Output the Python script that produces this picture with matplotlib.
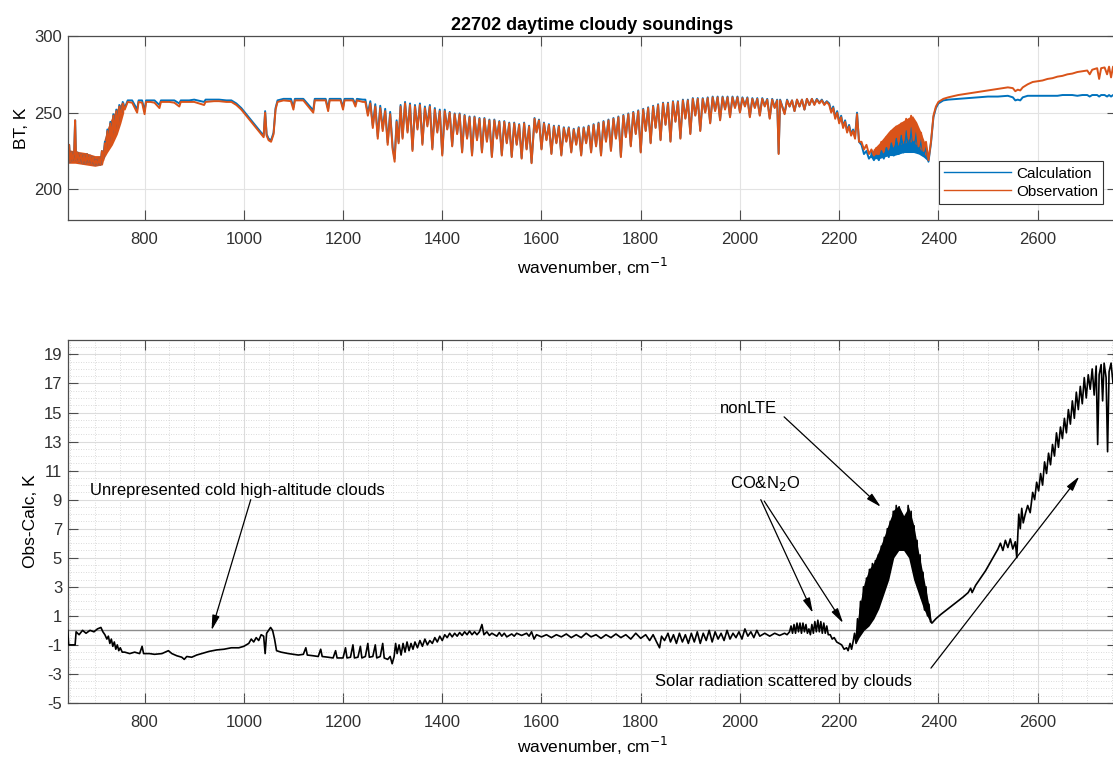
import numpy as np
import matplotlib
matplotlib.use('Agg')
import matplotlib.pyplot as plt
from matplotlib.ticker import MultipleLocator

plt.rcParams['font.family'] = ['Liberation Sans', 'DejaVu Sans']
plt.rcParams['axes.unicode_minus'] = False

# mean spectra, top panel (wavenumber cm-1, brightness temperature K)
wn_top = [
    645, 648, 650, 653, 655, 658, 660, 662, 665, 668, 672, 675, 678, 681, 684, 687, 690, 693, 696, 699,
    702, 705, 708, 711, 714, 717, 720, 722, 725, 728, 731, 734, 737, 740, 743, 746, 749, 752, 756, 760,
    766, 775, 785, 788, 795, 800, 803, 812, 820, 830, 833, 850, 860, 870, 873, 890, 900, 920, 923, 940,
    950, 965, 975,
    985, 995, 1005, 1015, 1025, 1035, 1040, 1043, 1046, 1050, 1055, 1060, 1064, 1068,
    1080, 1095, 1100, 1103, 1120, 1140, 1143, 1165, 1170, 1173, 1195, 1200, 1203, 1220, 1225, 1228, 1240,
    1245, 1250, 1255, 1260, 1265, 1270, 1275, 1280, 1285, 1290, 1295, 1300, 1304, 1308, 1312, 1316, 1320,
    1325, 1330, 1335, 1340, 1345, 1350, 1355, 1360, 1365, 1370, 1375, 1380, 1385, 1390, 1395, 1400, 1405,
    1410, 1415, 1420, 1425, 1430, 1435, 1440, 1445, 1450, 1455, 1460, 1465, 1470, 1475, 1480, 1485, 1490,
    1495, 1500, 1505, 1510, 1515, 1520, 1525, 1530, 1535, 1540, 1545, 1550, 1555, 1560, 1565, 1570, 1575,
    1580, 1586, 1590, 1595, 1600, 1605, 1610, 1615, 1620, 1625, 1630, 1635, 1640, 1645, 1650, 1655, 1660,
    1665, 1670, 1675, 1680, 1685, 1690, 1695, 1700, 1705, 1710, 1715, 1720, 1725, 1730, 1735, 1740, 1745,
    1750, 1755, 1760, 1765, 1770, 1775, 1780, 1785, 1790, 1795, 1800, 1805, 1810, 1815, 1820, 1825, 1830,
    1835, 1840, 1845, 1850, 1855, 1860, 1865, 1870, 1875, 1880, 1885, 1890, 1895, 1900, 1905, 1910, 1915,
    1920, 1925, 1930, 1935, 1940, 1945, 1950, 1955, 1960, 1965, 1970, 1975, 1980, 1985, 1990, 1995, 2000,
    2005, 2010, 2015, 2020, 2025, 2030, 2035, 2040, 2045, 2050, 2055, 2060, 2065, 2070, 2075, 2078, 2081,
    2090, 2095, 2100, 2105, 2110, 2115, 2120, 2125, 2130, 2135, 2140, 2145, 2150, 2155, 2160, 2165, 2170,
    2175,
    2180, 2184, 2188, 2192, 2196, 2200, 2204, 2208, 2212, 2216, 2220, 2224, 2228, 2232, 2236, 2240, 2245,
    2250, 2255, 2260, 2265, 2270, 2275, 2280, 2285, 2290, 2295, 2300, 2305, 2310, 2315, 2320, 2325, 2330,
    2335, 2340, 2345, 2350, 2355, 2360, 2365, 2370, 2375, 2380, 2385, 2390, 2395, 2400,
    2410, 2420, 2440, 2460, 2480, 2500, 2520, 2540, 2550, 2555, 2560, 2565, 2570, 2580, 2590, 2600, 2610,
    2620, 2630, 2640, 2650, 2660, 2670, 2680, 2690, 2700, 2705, 2710, 2715, 2720, 2724, 2728, 2735, 2740,
    2744, 2748, 2752, 2760,
]

bt_obs = [
    220, 229, 218, 224, 219, 223, 245, 219, 224, 218, 223, 217, 222, 217, 223, 218, 222, 217, 221, 216,
    219, 216, 220, 216, 225, 219, 230, 224, 238, 228, 243, 232, 248, 236, 251, 240, 254, 247, 256, 252,
    257, 256.5, 250, 257, 256.5, 249, 257, 257, 256.5, 253, 257, 257, 256.5, 254, 257, 257, 257, 255, 257, 257.5,
    257.5, 257, 257,
    255, 252, 248, 244, 240, 236, 234, 250, 235, 232, 231, 236, 252, 257,
    258, 257.5, 252, 258, 258, 250, 258, 258, 251, 258, 258, 252, 258, 258, 254, 258, 257,
    257, 248, 256, 240, 254, 233, 253, 238, 251, 229, 249, 226, 218, 244, 230, 254, 233,
    256, 237, 255, 225, 254, 239, 255, 229, 253, 241, 254, 226, 252, 237, 251, 222, 251,
    239, 250, 228, 249, 236, 249, 224, 248, 233, 247, 222, 247, 232, 246, 224, 246, 231,
    245, 221, 245, 233, 244, 222, 244, 230, 243, 221, 243, 229, 242, 220, 243, 226, 241,
    217, 246, 237, 245, 226, 243, 232, 242, 223, 241, 230, 241, 222, 240, 231, 240, 224,
    239, 229, 240, 222, 240, 230, 241, 224, 242, 228, 243, 222, 244, 231, 245, 225, 246,
    233, 247, 221, 248, 234, 249, 228, 250, 236, 251, 224, 252, 238, 253, 230, 254, 240,
    255, 232, 256, 242, 256, 231, 257, 244, 257, 233, 258, 246, 258, 236, 259, 248, 259,
    238, 259, 250, 259.5, 243, 260, 251, 260, 245, 260, 252, 260, 247, 260, 253, 260, 250,
    259.5, 254, 259.5, 247, 259, 253, 259, 248, 259, 254, 258.5, 246, 258.5, 253, 258, 223, 258,
    249, 258, 254, 258, 251, 258.5, 254, 258.5, 252, 259, 255, 259, 255, 258.5, 256, 258, 255,
    257,
    255, 250, 253, 246, 250, 243, 247, 240, 244, 237, 241, 235, 238, 233, 249, 231, 231,
    226, 229, 223, 226, 222, 227, 223, 231, 225, 234, 227, 238, 229, 241, 231, 243, 232,
    246, 233, 248, 232, 243, 228, 237, 225, 231, 219, 231, 248, 254, 257,
    259, 260, 261.5, 262.5, 263.5, 264.5, 265.5, 266.5, 266, 264, 265, 264.5, 266.5, 268.5, 270, 270.5, 271,
    272, 272.5, 273.5, 274, 275, 275.5, 276.5, 277, 277.5, 275, 278, 278.5, 279, 272, 279, 279.5, 275,
    280, 273, 280, 280,
]

bt_calc = [
    220, 229, 218, 224, 219, 223, 245, 219, 224, 218, 223, 217, 222, 217, 223, 218, 222, 217, 221, 216,
    219, 216, 220, 216, 225, 220, 231, 225, 239, 229, 244, 233, 249, 237, 252, 241, 255, 248, 257, 253,
    258, 258, 252, 258, 258, 251, 258, 258, 258, 255, 258, 258, 258, 256, 258, 258, 258.5, 257, 258.5, 258.5,
    258.5, 258, 258,
    256, 253, 249, 245, 241, 237, 235, 251, 236, 233, 232, 237, 253, 258,
    259, 259, 253.5, 259, 259, 251.5, 259, 259, 252.5, 259, 259, 253.5, 259, 259, 255.5, 259, 258.5,
    258.5, 249.5, 257.5, 241.5, 255.5, 234.5, 254.5, 239.5, 252.5, 230.5, 250.5, 227.5, 220, 245, 231, 255, 234,
    257, 238, 256, 226, 255, 240, 256, 230, 254, 242, 255, 227, 253, 238, 252, 223, 252,
    239.5, 250.5, 228.5, 249.5, 236.5, 249.5, 224.5, 248.5, 233.5, 247.5, 222.5, 247.5, 232.5, 246.5, 224.5, 246.5, 231.5,
    245.5, 221.5, 245.5, 233.5, 244.5, 222.5, 244.5, 230.5, 243.5, 221.5, 243.5, 229.5, 242.5, 220.5, 243.5, 226.5, 241.5,
    217.5, 246.5, 237.5, 245.5, 226.5, 243.5, 232.5, 242.5, 223.5, 241.5, 230.5, 241.5, 222.5, 240.5, 231.5, 240.5, 224.5,
    239.5, 229.5, 240.5, 222.5, 240.5, 230.5, 241.5, 224.5, 242.5, 228.5, 243.5, 222.5, 244.5, 231.5, 245.5, 225.5, 246.5,
    233.5, 247.5, 221.5, 248.5, 234.5, 249.5, 228.5, 250.5, 236.5, 251.5, 224.5, 252.5, 238.5, 253.5, 230.5, 254.5, 240.5,
    255.5, 232.5, 256.5, 242.5, 256.5, 231.5, 257.5, 244.5, 257.5, 233.5, 258.5, 246.5, 258.5, 236.5, 259.5, 248.5, 259.5,
    238.5, 259.5, 250.5, 260, 243.5, 260.5, 251.5, 260.5, 245.5, 260.5, 252.5, 260.5, 247.5, 260.5, 253.5, 260.5, 250.5,
    260, 254.5, 260, 247.5, 259.5, 253.5, 259.5, 248.5, 259.5, 254.5, 259, 246.5, 259, 253.5, 258.5, 223.5, 258.5,
    249.5, 258.5, 254, 258, 251, 258.5, 254, 258.5, 252, 259, 255, 259, 255.5, 259, 256.5, 258.5, 255.5,
    257.5,
    256, 251, 254, 247, 251, 244, 248, 241, 245, 238, 242, 236, 239, 234, 250, 231, 229,
    223, 225, 220, 222, 219, 222, 219, 225, 220, 227, 221, 230, 222, 233, 223, 235, 224,
    238, 225, 240, 226, 237, 224, 233, 222, 228, 218, 230, 247, 253, 256,
    258, 258.5, 259, 259.5, 260, 260.5, 260.5, 261, 260, 258, 258.5, 258, 260, 261, 261, 261, 261,
    261, 261, 261, 261.5, 261.5, 261.5, 261, 261.5, 261.5, 260.5, 261.5, 261.5, 261.5, 260.5, 261.5, 261.5, 260.5,
    261.5, 260.5, 261.5, 261.5,
]

# densely packed lines that read as solid bands (top panel)
obs_band_wn = [645, 660, 680, 700, 715, 718, 725, 735, 745, 752, 758,
               2268, 2280, 2290, 2300, 2310, 2320, 2330, 2340, 2348, 2356, 2364, 2372, 2380]
obs_band_hi = [226, 225, 224, 222, 222, 232, 240, 248, 253, 256, 257,
               226, 230, 234, 238, 241, 243, 245, 247, 248, 244, 238, 231, 222]
obs_band_lo = [217, 217, 216, 215, 216, 220, 224, 229, 236, 243, 250,
               222, 223, 224, 226, 228, 229, 230, 231, 231, 229, 226, 223, 219]
calc_band_wn = [2262, 2270, 2280, 2290, 2300, 2310, 2320, 2330, 2340, 2350, 2360, 2370, 2380]
calc_band_hi = [226, 225, 226, 228, 230, 232, 233, 234, 235, 235, 233, 228, 220]
calc_band_lo = [221, 220, 220, 221, 222, 222, 223, 224, 224, 224, 223, 221, 218]

# mean Obs-Calc, bottom panel
wn_diff = [
    645, 647, 660, 662, 668, 675, 682, 690, 698, 705, 712, 716, 720, 724, 727, 730, 733, 736, 739, 742,
    745, 748, 751, 755, 760, 770, 780, 790, 795, 798, 810, 820, 835, 848, 855, 865, 875, 880, 885, 895,
    905, 915, 930, 945, 960, 975, 990, 1000, 1010, 1015, 1020, 1025, 1030, 1035, 1040, 1043, 1046, 1050,
    1054, 1058, 1062, 1066, 1075, 1090, 1100, 1110, 1120, 1125, 1128, 1140, 1150, 1155, 1158, 1170, 1180,
    1185, 1188, 1200, 1205, 1208, 1215, 1220, 1223, 1230, 1235, 1238, 1245, 1250, 1253, 1260, 1265, 1268,
    1275, 1280, 1283, 1290, 1295, 1299, 1303, 1306, 1309, 1313, 1317, 1321, 1325, 1329, 1333, 1337, 1341,
    1345, 1350, 1355, 1360, 1365, 1370, 1375, 1380, 1385, 1390, 1395, 1400, 1405, 1410, 1415, 1420, 1425,
    1430, 1435, 1440, 1445, 1450, 1455, 1460, 1465, 1470, 1475, 1480, 1484, 1490, 1495, 1500, 1510, 1515,
    1520, 1525, 1530, 1540, 1545, 1550, 1560, 1570, 1575, 1580, 1585, 1590, 1600, 1610, 1620, 1630, 1640,
    1650, 1660, 1670, 1680, 1690, 1700, 1710, 1720, 1730, 1740, 1750, 1760, 1770, 1780, 1790, 1800, 1810,
    1818, 1825, 1832, 1838, 1842, 1848, 1855, 1860, 1866, 1872, 1878, 1884, 1890, 1896, 1902, 1908, 1914,
    1920, 1926, 1932, 1938, 1944, 1950, 1956, 1962, 1968, 1974, 1980, 1986, 1992, 1998, 2004, 2010, 2016,
    2022, 2028, 2034, 2040, 2050, 2060, 2070, 2080, 2090, 2095,
    2100, 2103, 2106, 2109, 2112, 2115, 2118, 2121, 2124, 2127, 2130, 2133, 2136, 2139, 2142, 2145, 2148,
    2151, 2154, 2157, 2160, 2163, 2166, 2169, 2172, 2175, 2178, 2182, 2186, 2190, 2195, 2200, 2205, 2210,
    2215, 2218, 2222, 2225, 2228,
    2231, 2234, 2237, 2240, 2243, 2246, 2249, 2252, 2255, 2258, 2261, 2264, 2267, 2270, 2273, 2276, 2279,
    2282, 2285, 2288, 2291, 2294, 2297, 2300, 2303, 2306, 2309, 2312, 2315, 2318, 2321, 2324, 2327, 2330,
    2333, 2336, 2339, 2342, 2345, 2348, 2351, 2354, 2357, 2360, 2363, 2366, 2369, 2372, 2375, 2378, 2381,
    2384, 2387,
    2395, 2405, 2420, 2435, 2450, 2460, 2465, 2468, 2475, 2485, 2495, 2505, 2515, 2520, 2525, 2530, 2535,
    2540, 2545, 2550, 2555, 2558, 2562, 2565, 2568, 2571, 2575, 2580, 2585, 2590, 2594, 2598, 2602, 2606,
    2610, 2614, 2618, 2622, 2626, 2630, 2634, 2638, 2642, 2646, 2650, 2654, 2658, 2662, 2666, 2670, 2674,
    2678, 2682, 2686, 2690, 2694, 2698, 2702, 2706, 2710, 2714, 2718, 2721, 2724, 2728, 2731, 2734, 2738,
    2741, 2744, 2748, 2752, 2756, 2760,
]

dbt = [
    0, -1, -1, -0.1, -0.3, 0, -0.2, 0, -0.1, 0.1, 0.2, -0.1, -0.3, -0.6, -0.4, -0.9, -0.6, -1.1, -0.8, -1.3,
    -1.0, -1.4, -1.2, -1.5, -1.5, -1.6, -1.5, -1.6, -1.1, -1.6, -1.6, -1.65, -1.6, -1.4, -1.6, -1.75, -1.85, -2.0, -1.8, -1.85,
    -1.7, -1.6, -1.45, -1.35, -1.3, -1.2, -1.2, -1.1, -0.9, -0.6, -0.8, -0.5, -0.7, -0.3, -0.4, -1.6, -0.2, 0.0,
    0.2, 0.0, -0.6, -1.4, -1.5, -1.6, -1.65, -1.7, -1.65, -1.2, -1.7, -1.75, -1.8, -1.3, -1.8, -1.85, -1.9,
    -1.4, -1.9, -1.9, -1.2, -1.9, -1.85, -1.0, -1.9, -1.85, -1.1, -1.9, -1.8, -0.9, -1.85, -1.8, -1.0, -1.9,
    -1.8, -0.9, -1.9, -2.0, -1.8, -2.3, -1.8, -0.9, -1.6, -1.0, -1.7, -0.9, -1.5, -0.8, -1.4, -0.9, -1.3,
    -0.8, -1.2, -0.7, -1.1, -0.6, -1.0, -0.7, -0.9, -0.5, -0.8, -0.4, -0.7, -0.3, -0.5, -0.2, -0.45, -0.2,
    -0.4, -0.15, -0.35, -0.1, -0.3, -0.05, -0.3, -0.1, -0.3, -0.1, 0.4, -0.3, -0.1, -0.35, -0.2, -0.4, -0.15,
    -0.4, -0.2, -0.45, -0.25, -0.4, -0.2, -0.35, -0.2, -0.4, -0.1, -0.6, -0.3, -0.45, -0.3, -0.5, -0.3, -0.45,
    -0.25, -0.5, -0.3, -0.5, -0.2, -0.45, -0.3, -0.55, -0.3, -0.5, -0.25, -0.5, -0.3, -0.6, -0.2, -0.55, -0.3,
    -0.7, -0.3, -0.8, -1.2, -0.4, -0.7, -0.2, -0.8, -0.3, -0.9, -0.2, -0.8, -0.3, -0.9, -0.2, -0.8, -0.1,
    -0.9, -0.2, -0.7, 0.0, -0.8, -0.1, -0.6, -0.2, -0.7, 0.0, -0.6, -0.2, -0.5, -0.1, -0.6, 0.1, -0.4,
    -0.1, -0.5, 0.0, -0.4, -0.2, -0.4, -0.2, -0.35, -0.2, -0.3,
    -0.1, 0.3, -0.2, 0.4, -0.2, 0.5, -0.1, 0.5, -0.2, 0.5, -0.1, 0.4, -0.2, 0.1, -0.3, 0.4, -0.2,
    0.6, -0.1, 0.7, -0.1, 0.6, -0.2, 0.5, -0.2, 0.3, -0.3, -0.3, -0.6, -0.5, -0.8, -0.9, -1.0, -1.3,
    -1.2, -1.4, -0.9, -1.3, -0.8,
    -0.2, -0.9, 0.8, -0.3, 2.0, 0.2, 3.0, 0.8, 3.6, 1.2, 4.2, 1.6, 4.6, 2.0, 4.8, 2.4, 5.2,
    2.8, 5.8, 3.4, 6.4, 3.8, 7.0, 4.4, 7.5, 4.8, 8.2, 5.4, 8.6, 5.6, 8.5, 5.8, 8.0, 5.8,
    7.8, 5.6, 8.6, 5.2, 8.2, 4.6, 7.2, 3.8, 6.2, 3.0, 5.2, 2.2, 4.0, 1.4, 3.0, 1.0, 1.8,
    0.6, 0.5,
    0.8, 1.1, 1.5, 1.9, 2.3, 2.6, 2.9, 2.6, 3.1, 3.6, 4.1, 4.7, 5.3, 5.6, 6.0, 5.5, 6.2,
    5.7, 6.3, 5.6, 6.1, 5.0, 8.0, 7.0, 8.4, 7.4, 8.0, 8.6, 8.1, 9.5, 9.0, 10.2, 9.6, 10.8,
    10.0, 11.6, 10.8, 12.2, 11.4, 12.8, 12.0, 13.6, 12.6, 14.0, 13.2, 14.6, 13.6, 15.2, 14.2, 15.8, 14.6,
    16.4, 15.2, 16.8, 15.6, 17.4, 16.0, 17.6, 16.6, 18.0, 16.2, 18.2, 12.8, 17.6, 18.3, 15.8, 18.4, 17.4,
    12.3, 17.8, 18.4, 17.0, 18.3, 18.2,
]

# nonLTE region reads as a solid black band
diff_band_wn = [2234, 2240, 2250, 2260, 2270, 2280, 2290, 2300, 2310, 2320, 2330, 2340, 2350, 2360, 2370, 2380, 2386]
diff_band_hi = [-0.2, 1.5, 3.2, 4.2, 4.7, 5.5, 6.4, 7.4, 8.3, 8.6, 7.9, 8.5, 7.3, 5.4, 3.7, 1.9, 0.6]
diff_band_lo = [-0.9, -0.5, 0.0, 0.3, 0.8, 1.5, 2.5, 3.5, 5.0, 5.5, 5.5, 5.0, 3.5, 2.5, 1.5, 0.8, 0.5]

series_labels = ['Calculation', 'Observation']
title = '22702 daytime cloudy soundings'

BLUE = '#0072BD'
ORANGE = '#D95319'
SPINE = '#4d4d4d'


def styleAxes(ax):
    for s in ax.spines.values():
        s.set_color(SPINE)
        s.set_linewidth(0.9)
    ax.tick_params(direction='in', length=7, width=0.8, color=SPINE,
                   top=True, right=True, labelsize=12, labelcolor='#303030')
    ax.tick_params(axis='x', pad=9)
    ax.tick_params(axis='y', pad=4)
    ax.set_axisbelow(True)


fig = plt.figure(figsize=(11.13, 7.58), dpi=100)

# bovenste paneel
ax1 = fig.add_axes([0.0608, 0.7098, 0.9428, 0.2427])
ax1.fill_between(calc_band_wn, calc_band_lo, calc_band_hi, color=BLUE, lw=0)
ax1.plot(wn_top, bt_calc, color=BLUE, lw=1.4, label=series_labels[0])
ax1.fill_between(obs_band_wn[:11], obs_band_lo[:11], obs_band_hi[:11], color=ORANGE, lw=0)
ax1.fill_between(obs_band_wn[11:], obs_band_lo[11:], obs_band_hi[11:], color=ORANGE, lw=0)
ax1.plot(wn_top, bt_obs, color=ORANGE, lw=1.4, label=series_labels[1])
ax1.set_xlim(645, 2760)
ax1.set_ylim(180, 300)
ax1.set_xticks(np.arange(800, 2800, 200))
ax1.set_yticks([200, 250, 300])
ax1.grid(True, color='#e3e3e3', lw=0.8)
styleAxes(ax1)
ax1.set_title(title, fontsize=13, fontweight='bold', pad=4)
ax1.set_xlabel('wavenumber, cm$^{-1}$', fontsize=12.5, labelpad=6)
ax1.set_ylabel('BT, K', fontsize=12.5, labelpad=4)
leg = ax1.legend(loc='lower right', bbox_to_anchor=(0.987, 0.087), fontsize=11,
                 handlelength=4.4, fancybox=False, framealpha=1, edgecolor='#333333',
                 borderpad=0.35, labelspacing=0.25, handletextpad=0.3, borderaxespad=0)
leg.get_frame().set_linewidth(0.8)
for h in leg.get_lines():
    h.set_linewidth(1.0)

# onderste paneel
ax2 = fig.add_axes([0.0608, 0.0726, 0.9428, 0.479])
ax2.axhline(0, color='#8c8c8c', lw=1.0, zorder=1)
ax2.fill_between(diff_band_wn, diff_band_lo, diff_band_hi, color='k', lw=0, zorder=3)
ax2.plot(wn_diff, dbt, color='k', lw=1.2, zorder=3)
ax2.set_xlim(645, 2760)
ax2.set_ylim(-5, 20)
ax2.set_xticks(np.arange(800, 2800, 200))
ax2.set_yticks(np.arange(-5, 20, 2))
ax2.xaxis.set_minor_locator(MultipleLocator(50))
ax2.yaxis.set_minor_locator(MultipleLocator(0.5))
ax2.tick_params(which='minor', length=0)
ax2.grid(True, which='major', color='#dcdcdc', lw=0.8)
ax2.grid(True, which='minor', color='#cfcfcf', lw=0.6, linestyle=(0, (1, 2)))
styleAxes(ax2)
ax2.set_xlabel('wavenumber, cm$^{-1}$', fontsize=12.5, labelpad=3)
ax2.set_ylabel('Obs-Calc, K', fontsize=12.5, labelpad=4)

arrow = dict(arrowstyle='-|>,head_length=0.9,head_width=0.22', color='k', lw=0.9,
             shrinkA=0, shrinkB=0)
ax2.text(690, 9.6, 'Unrepresented cold high-altitude clouds', fontsize=12, va='center')
ax2.annotate('', xy=(935, 0.0), xytext=(1014, 9.0), arrowprops=arrow)
ax2.text(2018, 15.3, 'nonLTE', fontsize=12, ha='center', va='center')
ax2.annotate('', xy=(2284, 8.5), xytext=(2089, 14.7), arrowprops=arrow)
ax2.text(2050, 10.1, 'CO&N$_2$O', fontsize=12, ha='center', va='center')
ax2.annotate('', xy=(2147, 1.2), xytext=(2042, 9.0), arrowprops=arrow)
ax2.annotate('', xy=(2208, 0.5), xytext=(2049, 8.9), arrowprops=arrow)
ax2.text(2088, -3.5, 'Solar radiation scattered by clouds', fontsize=12, ha='center', va='center')
ax2.annotate('', xy=(2684, 10.6), xytext=(2385, -2.6), arrowprops=arrow)

fig.savefig('out.png', dpi=100)
